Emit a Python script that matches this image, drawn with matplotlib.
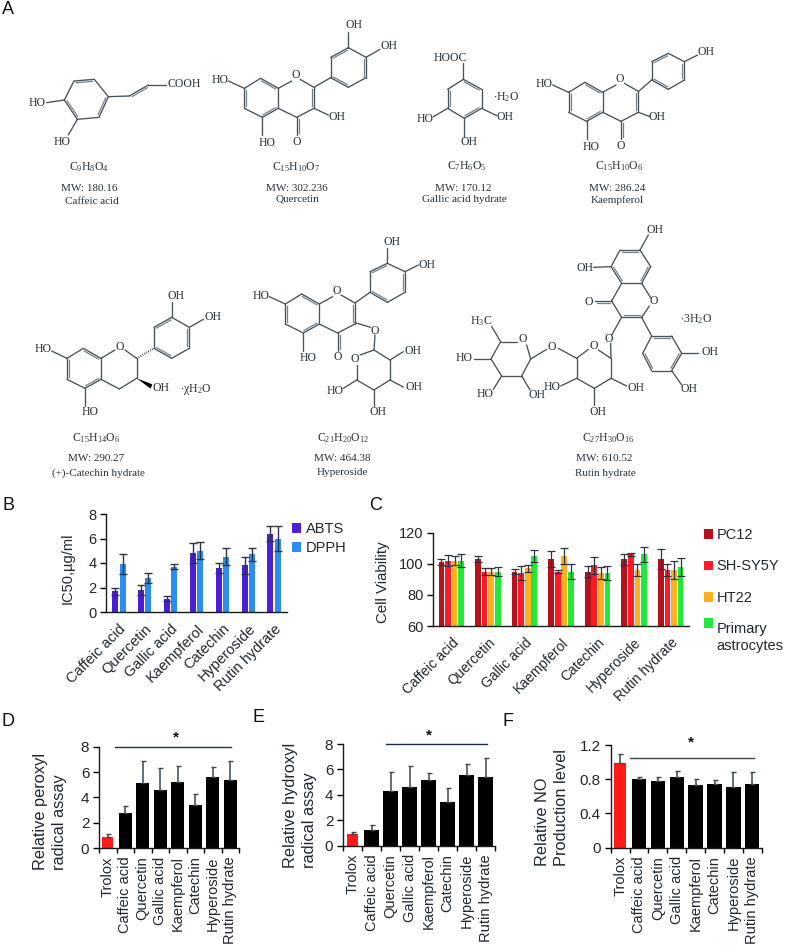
import matplotlib
matplotlib.use("Agg")
import matplotlib.pyplot as plt
import numpy as np
from matplotlib.transforms import Affine2D
from matplotlib.patches import Polygon

W, H = 785, 947
plt.rcParams['font.family'] = ['Liberation Sans', 'DejaVu Sans']
plt.rcParams['mathtext.fontset'] = 'custom'
plt.rcParams['mathtext.rm'] = 'Liberation Serif'
plt.rcParams['mathtext.default'] = 'rm'

# ---------- data ----------
compounds = ["Caffeic acid", "Quercetin", "Gallic acid", "Kaempferol", "Catechin", "Hyperoside", "Rutin hydrate"]
compounds_trolox = ["Trolox"] + compounds

abts = [1.7, 1.8, 1.1, 4.8, 3.6, 3.8, 6.4]
abts_err = [0.3, 0.4, 0.2, 0.8, 0.4, 0.7, 0.6]
dpph = [3.9, 2.8, 3.7, 5.0, 4.5, 4.7, 6.0]
dpph_err = [0.8, 0.4, 0.2, 0.7, 0.7, 0.5, 1.0]

pc12 = [101, 103, 95, 103, 95, 103, 103]
pc12_err = [2, 2, 1.5, 5, 3.5, 3.5, 6.5]
shsy5y = [102, 95, 94, 95, 99, 106, 96]
shsy5y_err = [3.5, 2.5, 4.5, 1, 5.5, 0.7, 4]
ht22 = [102, 95, 97, 105, 94, 96, 96]
ht22_err = [3, 2.5, 2.5, 5, 4, 4, 6]
astro = [102, 95, 105, 95, 94, 106, 98]
astro_err = [4, 3, 4, 5, 4.5, 5, 6]

peroxyl = [0.9, 2.8, 5.1, 4.6, 5.2, 3.4, 5.6, 5.4]
peroxyl_top = [1.1, 3.3, 6.9, 6.3, 6.5, 4.3, 6.4, 6.9]
hydroxyl = [0.9, 1.2, 4.3, 4.6, 5.2, 3.4, 5.6, 5.4]
hydroxyl_top = [1.1, 1.6, 5.8, 6.3, 5.7, 4.5, 6.4, 6.9]
no_level = [0.99, 0.80, 0.78, 0.83, 0.73, 0.75, 0.71, 0.74]
no_top = [1.10, 0.83, 0.83, 0.90, 0.80, 0.79, 0.89, 0.89]

TXT = '#1f2730'
fig = plt.figure(figsize=(W / 100, H / 100), dpi=100)
px = Affine2D().scale(1 / W, -1 / H).translate(0, 1) + fig.transFigure


def axes_px(x0, x1, ytop, ybot):
    ax = fig.add_axes([x0 / W, 1 - ybot / H, (x1 - x0) / W, (ybot - ytop) / H])
    ax.patch.set_alpha(0)
    for s in ('top', 'right'):
        ax.spines[s].set_visible(False)
    for s in ('left', 'bottom'):
        ax.spines[s].set_color('#1a1a1a')
        ax.spines[s].set_linewidth(1.0)
    return ax


# ---------- panel A: structures on a pixel overlay ----------
ov = fig.add_axes([0, 0, 1, 1])
ov.set_xlim(0, W)
ov.set_ylim(H, 0)
ov.axis('off')
BOND = '#46525a'
ORG = [0, 0]


def P(p):
    return ORG[0] + p[0] / 3, ORG[1] + p[1] / 3


def seg(*pairs):
    for a, b in pairs:
        a, b = P(a), P(b)
        ov.plot([a[0], b[0]], [a[1], b[1]], color=BOND, lw=0.95, solid_capstyle='round')


def inner(a, b, c):
    a, b, c = np.array(P(a)), np.array(P(b)), np.array(P(c))
    m = (a + b) / 2
    n = np.array([-(b - a)[1], (b - a)[0]])
    n = n / np.hypot(*n)
    if np.dot(n, c - m) < 0:
        n = -n
    p = a + n * 1.9 + (b - a) * 0.1
    q = b + n * 1.9 - (b - a) * 0.1
    ov.plot([p[0], q[0]], [p[1], q[1]], color='#74808a', lw=0.9)


def ring(v, doubles=()):
    n = len(v)
    seg(*[(v[i], v[(i + 1) % n]) for i in range(n)])
    c = tuple(np.mean(v, axis=0))
    for i in doubles:
        inner(v[i], v[(i + 1) % n], c)


def T(x, y, s, size=8.5, ha='center'):
    x, y = P((x, y))
    ov.text(x, y, s, family='Liberation Serif', fontsize=size, color='#27323a', ha=ha, va='center')


def flavone(ox, oy):
    ORG[:] = [ox, oy]
    ring([(0, 0), (53, 30), (53, 90), (5, 117), (-49, 90), (-49, 30)], (0, 2, 4))
    seg(((53, 30), (93, 8)), ((118, 3), (160, 27)), ((160, 27), (160, 90)),
        ((160, 90), (108, 117)), ((108, 117), (53, 90)),
        ((108, 117), (108, 170)), ((-97, 8), (-49, 30)), ((5, 117), (5, 170)))
    inner((160, 27), (160, 90), (100, 60))
    inner((108, 117), (108, 170), (130, 140))
    T(105, -10, 'O')
    T(108, 190, 'O')
    T(-122, 5, 'HO')
    T(18, 193, 'HO')


CAP = 8.0
# Caffeic acid
ORG[:] = [0, 0]
ring([(222, 243), (283, 238), (325, 290), (297, 352), (232, 358), (193, 300)], (0, 2, 4))
seg(((325, 290), (388, 288)), ((388, 288), (445, 255)), ((445, 255), (498, 255)),
    ((140, 308), (193, 300)), ((232, 358), (205, 405)))
inner((388, 288), (445, 255), (445, 285))
T(112, 310, 'HO')
T(186, 425, 'HO')
T(552, 252, 'COOH')
T(268, 500, r'$C_9H_8O_4$')
T(268, 564, 'MW: 180.16', CAP)
T(277, 603, 'Caffeic acid', CAP)

# Quercetin
flavone(782 / 3, 235 / 3)
ORG[:] = [0, 0]
ring([(992, 233), (992, 172), (1045, 143), (1098, 172), (1098, 233), (1045, 262)], (1, 3, 5))
seg(((942, 262), (992, 233)), ((1045, 143), (1045, 95)), ((1098, 172), (1140, 148)), ((942, 325), (985, 345)))
T(1062, 76, 'OH')
T(1167, 138, 'OH')
T(1010, 350, 'OH')
T(887, 500, r'$C_{15}H_{10}O_7$')
T(892, 565, 'MW: 302.236', CAP)
T(892, 597, 'Quercetin', CAP)

# Gallic acid
ORG[:] = [400, 0]
ring([(190, 238), (245, 268), (245, 325), (193, 355), (143, 325), (143, 268)], (0, 2, 4))
seg(((190, 238), (190, 190)), ((245, 325), (290, 347)), ((143, 325), (100, 350)), ((193, 355), (193, 410)))
T(150, 175, 'HOOC')
T(315, 352, 'OH')
T(75, 358, 'HO')
T(207, 427, 'OH')
T(318, 290, r'$\cdot H_2O$')
T(200, 498, r'$C_7H_6O_5$')
T(190, 565, 'MW: 170.12', CAP)
T(193, 598, 'Gallic acid hydrate', CAP)

# Kaempferol
flavone(400 + 555 / 3, 247 / 3)
ORG[:] = [400, 0]
ring([(755, 240), (755, 185), (805, 160), (853, 185), (853, 240), (805, 268)], (1, 3, 5))
seg(((715, 275), (755, 240)), ((853, 185), (893, 165)), ((715, 337), (750, 350)))
T(918, 155, 'OH')
T(772, 350, 'OH')
T(657, 498, r'$C_{15}H_{10}O_6$')
T(652, 565, 'MW: 286.24', CAP)
T(652, 600, 'Kaempferol', CAP)

# Catechin
ORG[:] = [0, 240]
ring([(250, 325), (303, 355), (303, 418), (255, 445), (201, 418), (201, 355)], (0, 2, 4))
seg(((303, 355), (345, 330)), ((375, 330), (410, 355)), ((410, 355), (410, 415)), ((410, 415), (358, 447)),
    ((358, 447), (303, 418)), ((255, 445), (255, 497)), ((201, 355), (155, 333)))
ring([(462, 325), (462, 262), (515, 232), (568, 262), (568, 325), (515, 355)], (1, 3, 5))
seg(((515, 232), (515, 185)), ((568, 262), (610, 238)))
a, b = P((410, 355)), P((462, 325))
ov.plot([a[0], b[0]], [a[1], b[1]], color=BOND, lw=1.6, ls=(0, (0.4, 0.6)))
ov.add_patch(Polygon([P((410, 415)), P((457, 433)), P((452, 446))], closed=True, fc='black', ec='none'))
T(358, 320, 'O')
T(130, 328, 'HO')
T(269, 516, 'HO')
T(483, 443, 'OH')
T(528, 168, 'OH')
T(638, 232, 'OH')
T(587, 447, r'$\cdot\chi H_2O$')
T(287, 595, r'$C_{15}H_{14}O_6$')
T(288, 655, 'MW: 290.27', CAP)
T(296, 700, '(+)-Catechin hydrate', CAP)

# Hyperoside
flavone(905 / 3, 240 + 162 / 3)
ORG[:] = [0, 240]
ring([(1110, 157), (1110, 95), (1162, 70), (1215, 95), (1215, 157), (1162, 187)], (1, 3, 5))
seg(((1065, 189), (1110, 157)), ((1162, 70), (1162, 25)), ((1215, 95), (1255, 75)),
    ((1065, 248), (1112, 262)), ((1125, 285), (1122, 330)),
    ((1122, 330), (1170, 360)), ((1170, 360), (1170, 420)), ((1170, 420), (1122, 450)),
    ((1122, 450), (1070, 420)), ((1070, 420), (1070, 375)), ((1080, 345), (1122, 330)),
    ((1170, 360), (1210, 335)), ((1170, 420), (1210, 441)),
    ((1070, 420), (1030, 445)), ((1122, 450), (1122, 497)))
T(1175, 5, 'OH')
T(1280, 75, 'OH')
T(1125, 272, 'O')
T(1065, 357, 'O')
T(1238, 332, 'OH')
T(1242, 442, 'OH')
T(1005, 452, 'HO')
T(1135, 515, 'OH')
T(1030, 595, r'$C_{21}H_{20}O_{12}$')
T(1027, 655, 'MW: 464.38', CAP)
T(1027, 696, 'Hyperoside', CAP)

# Rutin
ORG[:] = [400, 230]
ring([(660, 60), (720, 60), (752, 110), (725, 160), (665, 160), (633, 110)], (0, 2, 4))
seg(((720, 60), (745, 15)), ((580, 112), (633, 110)), ((725, 160), (752, 203)), ((748, 228), (725, 262)),
    ((725, 262), (665, 262)), ((665, 262), (635, 213)), ((635, 213), (665, 160)), ((635, 213), (585, 213)),
    ((665, 262), (635, 315)), ((632, 340), (633, 385)), ((725, 262), (755, 318)),
    ((845, 370), (895, 370)), ((815, 422), (845, 465)),
    ((595, 360), (633, 385)), ((633, 385), (633, 445)), ((633, 445), (583, 475)), ((583, 475), (530, 445)),
    ((530, 445), (530, 385)), ((530, 385), (565, 358)), ((633, 445), (680, 468)), ((583, 475), (583, 525)),
    ((530, 445), (482, 468)), ((530, 385), (475, 355)), ((440, 358), (392, 387)),
    ((392, 387), (365, 438)), ((365, 438), (305, 438)), ((305, 438), (273, 387)), ((273, 387), (302, 335)),
    ((302, 335), (350, 335)), ((380, 345), (392, 387)), ((302, 335), (275, 290)),
    ((273, 387), (222, 387)), ((305, 438), (280, 478)), ((365, 438), (390, 480)))
inner((725, 262), (665, 262), (690, 200))
inner((635, 213), (585, 213), (610, 240))
ring([(755, 318), (815, 318), (845, 370), (815, 422), (755, 422), (728, 370)], (0, 2, 4))
for x, y, s in [(765, 0, 'OH'), (555, 113, 'OH'), (762, 212, 'O'), (567, 215, 'O'), (627, 328, 'O'),
                (930, 367, 'OH'), (867, 477, 'OH'), (580, 348, 'O'), (707, 475, 'OH'), (595, 545, 'OH'),
                (457, 470, 'HO'), (455, 350, 'O'), (367, 328, 'O'), (243, 272, r'$H_3C$'),
                (192, 385, 'HO'), (255, 493, 'HO'), (412, 495, 'OH'), (888, 268, r'$\cdot 3H_2O$'),
                (625, 625, r'$C_{27}H_{30}O_{16}$')]:
    T(x, y, s)
T(612, 685, 'MW: 610.52', CAP)
T(617, 731, 'Rutin hydrate', CAP)

# panel letters
for x, y, s in [(8, 9, 'A'), (8, 505, 'B'), (376, 505, 'C'), (8, 721, 'D'), (258, 717, 'E'), (508, 721, 'F')]:
    ov.text(x, y, s, fontsize=13, color='#111111', ha='center', va='center')


def ylab(ax, s, x, y, size=11, ls=1.2):
    lab = ax.set_ylabel(s, fontsize=size, color=TXT, multialignment='left', linespacing=ls, va='center')
    ax.yaxis.set_label_coords(x, y, transform=px)
    return lab


# ---------- panel B ----------
axb = axes_px(106, 287, 514, 612)
xb = np.arange(len(compounds))
ek = dict(ecolor='#2b3440', elinewidth=1.0, capthick=1.0)
axb.bar(xb - 0.14, abts, 0.235, color='#4A1FD6', yerr=abts_err, capsize=3, error_kw=ek, label='ABTS')
axb.bar(xb + 0.14, dpph, 0.235, color='#2B8CF2', yerr=dpph_err, capsize=3, error_kw=ek, label='DPPH')
axb.set_xlim(-0.5, 6.5)
axb.set_ylim(0, 8)
axb.set_yticks([0, 2, 4, 6, 8])
axb.set_xticks(xb)
axb.set_xticklabels(compounds, rotation=45, ha='right', rotation_mode='anchor', fontsize=10.5, color=TXT)
axb.tick_params(axis='x', length=0, pad=7)
axb.tick_params(axis='y', labelsize=10.5, labelcolor=TXT, length=4, width=1, pad=3)
ylab(axb, 'IC50,µg/ml', 68, 568, 10.5)
axb.legend(loc='upper left', bbox_to_anchor=(292 / W, 1 - 522 / H), bbox_transform=fig.transFigure, frameon=False,
           fontsize=10.5, handlelength=0.65, handleheight=0.65, handletextpad=0.3, labelspacing=0.35,
           borderpad=0, borderaxespad=0, labelcolor=TXT)

# ---------- panel C ----------
axc = axes_px(433, 689, 532.7, 626)
xc = np.arange(len(compounds))
ek2 = dict(ecolor='#2b3440', elinewidth=0.9, capthick=0.9)
series = [('PC12', pc12, pc12_err, '#B5121B'), ('SH-SY5Y', shsy5y, shsy5y_err, '#FF1A2A'),
          ('HT22', ht22, ht22_err, '#FFB020'), ('Primary\nastrocytes', astro, astro_err, '#22E83A')]
for i, (name, v, e, c) in enumerate(series):
    axc.bar(xc + (i - 1.5) * 0.18, v, 0.155, color=c, yerr=e, capsize=2.6, error_kw=ek2, label=name)
axc.set_xlim(-0.5, 6.5)
axc.set_ylim(60, 120)
axc.set_yticks([60, 80, 100, 120])
axc.set_xticks(xc)
axc.set_xticklabels(compounds, rotation=45, ha='right', rotation_mode='anchor', fontsize=10, color=TXT)
axc.tick_params(axis='x', length=0, pad=7)
axc.tick_params(axis='y', labelsize=10.5, labelcolor=TXT, length=4, width=1, pad=3)
ylab(axc, 'Cell Viability', 383, 582, 10.8)
legc = axc.legend(loc='upper left', bbox_to_anchor=(704 / W, 1 - 528 / H), bbox_transform=fig.transFigure,
                  frameon=False, fontsize=10.5, handlelength=0.65, handleheight=0.65, handletextpad=0.2,
                  labelspacing=1.2, borderpad=0, borderaxespad=0, labelcolor=TXT)
legc.legend_handles[3].set_y(11)


# ---------- panels D, E, F ----------
def lower(ax, vals, tops, yt, ytl, ymax, line, star, linecolor, label, lx, ly):
    x = np.arange(len(vals))
    widths = [0.63] + [0.76] * (len(vals) - 1)
    colors = ['#FF1A1A'] + ['black'] * (len(vals) - 1)
    up = np.array(tops) - np.array(vals)
    ax.bar(x, vals, widths, color=colors, yerr=[np.zeros_like(up), up], capsize=1.8,
           error_kw=dict(ecolor='#3c4650', elinewidth=1.1, capthick=1.0))
    ax.set_xlim(-0.5, len(vals) - 0.5)
    ax.set_ylim(0, ymax)
    ax.set_yticks(yt)
    ax.set_yticklabels(ytl)
    ax.set_xticks(np.arange(len(vals) + 1) - 0.5)
    ax.set_xticklabels([])
    ax.set_xticks(x, minor=True)
    ax.set_xticklabels(compounds_trolox, minor=True, rotation=90, fontsize=10.5, color=TXT)
    ax.tick_params(axis='x', which='major', length=3.5, width=1)
    ax.tick_params(axis='x', which='minor', length=0, pad=6)
    ax.tick_params(axis='y', labelsize=11, labelcolor=TXT, length=4, width=1, pad=3)
    ax.plot(line[:2], [line[2]] * 2, color=linecolor, lw=1.0, clip_on=False)
    ax.text(star[0], star[1], '*', fontsize=11, fontweight='bold', ha='center', va='center', color='#111111', clip_on=False)
    ylab(ax, label, lx, ly, 11.8, 1.4)


axd = axes_px(99, 239, 746.7, 848)
lower(axd, peroxyl, peroxyl_top, [0, 2, 4, 6, 8], ['0', '2', '4', '6', '8'], 8,
      (0.41, 7.07, 7.95), (3.9, 8.7), '#26303a', 'Relative peroxyl\nradical assay', 50, 811)
axe = axes_px(343, 495, 744, 845.7)
lower(axe, hydroxyl, hydroxyl_top, [0, 2, 4, 6, 8], ['0', '2', '4', '6', '8'], 8,
      (1.75, 7.09, 8.0), (4.02, 8.7), '#1a2a5a', 'Relative hydroxyl\nradical assay', 300, 805)
axf = axes_px(610.7, 761.7, 745, 847.7)
lower(axf, no_level, no_top, [0, 0.4, 0.8, 1.2], ['0', '0.4', '0.8', '1.2'], 1.2,
      (0.52, 7.1, 1.05), (3.74, 1.235), '#3c4650', 'Relative NO\nProduction level', 552, 807)

fig.savefig('out.png', dpi=100)
